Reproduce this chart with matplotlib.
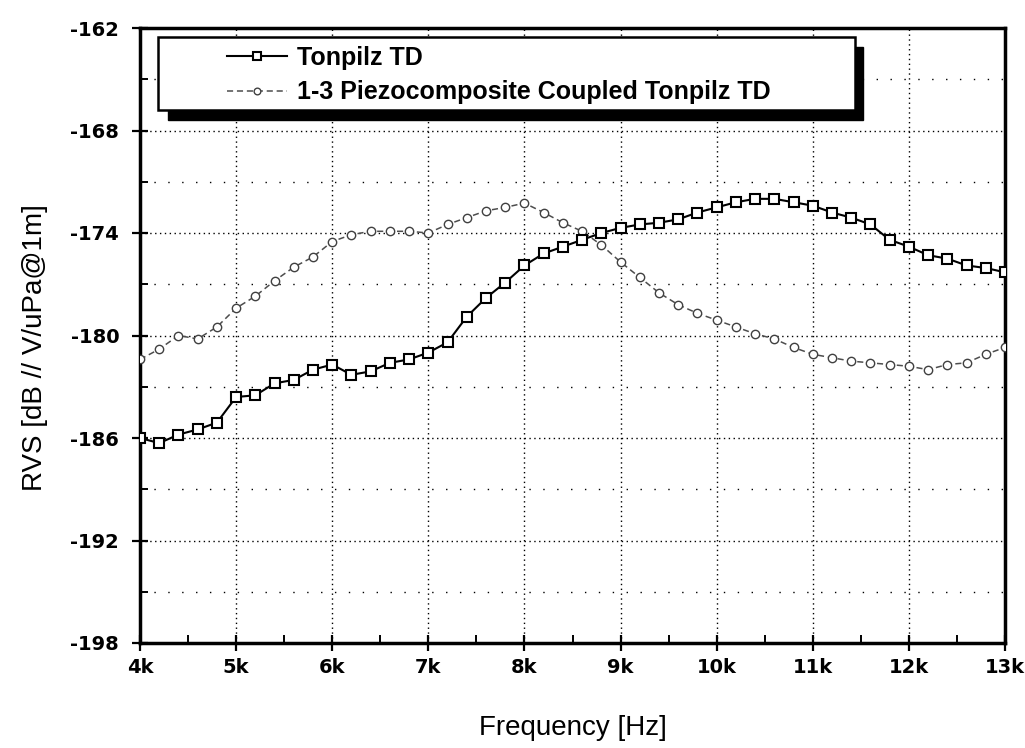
import numpy as np
import matplotlib
matplotlib.use("Agg")
import matplotlib.pyplot as plt
from matplotlib.patches import Rectangle
from matplotlib.ticker import MultipleLocator, FuncFormatter

plt.rcParams['font.family'] = ['Liberation Sans', 'DejaVu Sans']

# frequency axis (Hz), one point every 200 Hz
freq = np.arange(4000, 13001, 200)

# Tonpilz TD (squares)
tonpilz = [
    -186.0, -186.3, -185.8, -185.5, -185.1, -183.6, -183.5, -182.8, -182.6, -182.0,
    -181.7, -182.3, -182.1, -181.6, -181.4, -181.0, -180.4, -178.9, -177.8, -176.9,
    -175.9, -175.2, -174.8, -174.4, -174.0, -173.7, -173.5, -173.4, -173.2, -172.8,
    -172.5, -172.2, -172.0, -172.0, -172.2, -172.4, -172.8, -173.1, -173.5, -174.4,
    -174.8, -175.3, -175.5, -175.9, -176.05, -176.3,
]

# 1-3 piezocomposite coupled Tonpilz TD (circles)
composite = [
    -181.4, -180.8, -180.0, -180.2, -179.5, -178.4, -177.7, -176.8, -176.0, -175.4,
    -174.5, -174.1, -173.9, -173.9, -173.9, -174.0, -173.5, -173.1, -172.7, -172.5,
    -172.25, -172.8, -173.4, -173.9, -174.7, -175.7, -176.6, -177.5, -178.2, -178.7,
    -179.1, -179.5, -179.9, -180.2, -180.7, -181.1, -181.3, -181.5, -181.6, -181.7,
    -181.8, -182.0, -181.7, -181.6, -181.1, -180.7,
]

labels = ["Tonpilz TD", "1-3 Piezocomposite Coupled Tonpilz TD"]

fig = plt.figure(figsize=(10.25, 7.48), dpi=100)
ax = fig.add_axes([140 / 1025, 1 - 643 / 748, 865 / 1025, 615 / 748])

l1, = ax.plot(freq, tonpilz, color='black', lw=1.5, marker='s', ms=6.5,
              mfc='white', mec='black', mew=1.5, zorder=4)
l2, = ax.plot(freq, composite, color='0.3', lw=1.1, dashes=(4, 2.5), marker='o',
              ms=6, mfc='white', mec='0.25', mew=1.0, zorder=3)

ax.set_xlim(4000, 13000)
ax.set_ylim(-198, -162)
ax.xaxis.set_major_locator(MultipleLocator(1000))
ax.xaxis.set_minor_locator(MultipleLocator(500))
ax.yaxis.set_major_locator(MultipleLocator(6))
ax.yaxis.set_minor_locator(MultipleLocator(3))
ax.xaxis.set_major_formatter(FuncFormatter(lambda v, p: f"{int(round(v / 1000))}k"))
ax.yaxis.set_major_formatter(FuncFormatter(lambda v, p: f"{int(round(v))}"))

ax.grid(which='major', color='black', lw=1.0, linestyle=(0, (1, 2.5)))
ax.grid(which='minor', axis='y', color='black', lw=1.0, linestyle=(0, (1, 9)))

for s in ax.spines.values():
    s.set_linewidth(2.5)
ax.tick_params(which='major', direction='inout', length=12, width=1.6)
ax.tick_params(axis='y', which='major', pad=9)
ax.tick_params(axis='x', which='major', pad=5)
ax.tick_params(which='minor', direction='in', length=6, width=1.4)
for t in ax.get_xticklabels() + ax.get_yticklabels():
    t.set_fontfamily('DejaVu Sans')
    t.set_fontweight('bold')
    t.set_fontsize(14)

ax.set_xlabel("Frequency [Hz]", fontsize=20, labelpad=27)
ax.set_ylabel("RVS [dB // V/uPa@1m]", fontsize=20, labelpad=16, y=0.48)

# legend box with a heavy black drop shadow
fig.patches.append(Rectangle((168 / 1025, 1 - 120 / 748), 695 / 1025, 73 / 748,
                             transform=fig.transFigure, facecolor='black',
                             edgecolor='black', zorder=5))
fig.patches.append(Rectangle((158 / 1025, 1 - 110 / 748), 697 / 1025, 73 / 748,
                             transform=fig.transFigure, facecolor='white',
                             edgecolor='black', lw=1.8, zorder=6))
leg = fig.legend([l1, l2], labels, loc='upper left',
                 bbox_to_anchor=(227 / 1025, 1 - 46 / 748), frameon=False,
                 prop={'weight': 'bold', 'size': 18}, handlelength=2.4,
                 handletextpad=0.4, labelspacing=0.42, borderpad=0,
                 borderaxespad=0, markerscale=0.8)
leg.set_zorder(7)

fig.savefig("out.png", dpi=100)
